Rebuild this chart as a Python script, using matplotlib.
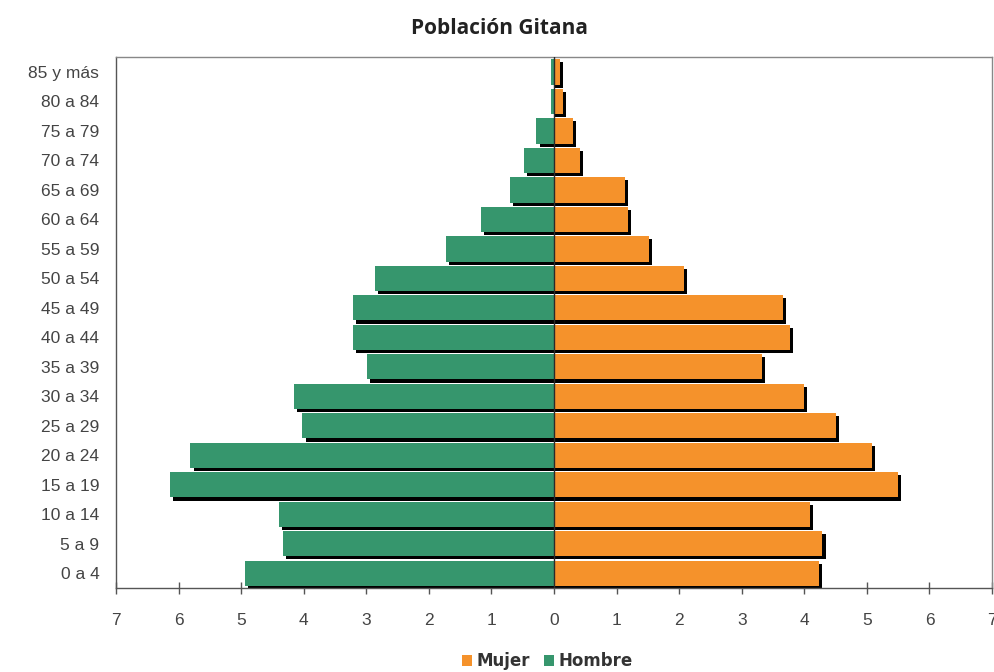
import matplotlib.pyplot as plt
import matplotlib.patheffects as pe
import numpy as np

# age groups, bottom to top
grupos = ['0 a 4', '5 a 9', '10 a 14', '15 a 19', '20 a 24', '25 a 29',
          '30 a 34', '35 a 39', '40 a 44', '45 a 49', '50 a 54', '55 a 59',
          '60 a 64', '65 a 69', '70 a 74', '75 a 79', '80 a 84', '85 y más']

# percentages
hombre = [4.94, 4.33, 4.40, 6.14, 5.81, 4.02, 4.15, 2.99, 3.21, 3.21,
          2.86, 1.72, 1.17, 0.71, 0.48, 0.28, 0.05, 0.05]
mujer = [4.24, 4.29, 4.09, 5.49, 5.08, 4.50, 4.00, 3.33, 3.77, 3.66,
         2.07, 1.52, 1.18, 1.14, 0.41, 0.31, 0.14, 0.09]

verde = '#36966d'
naranja = '#f5922b'

fig = plt.figure(figsize=(9.95, 6.72), dpi=100)
ax = fig.add_axes([0.1166, 0.125, 0.8804, 0.790])

y = np.arange(len(grupos))
sombra = [pe.SimplePatchShadow(offset=(2.2, -2.2), shadow_rgbFace='black', alpha=1.0), pe.Normal()]

bh = ax.barh(y, -np.array(hombre), height=0.86, color=verde, label='Hombre', zorder=2)
bm = ax.barh(y, mujer, height=0.86, color=naranja, label='Mujer', zorder=2)
for b in list(bh) + list(bm):
    b.set_path_effects(sombra)

ax.axvline(0, color='#2a2a2a', lw=1.0, zorder=3)

ax.set_xlim(-7, 7)
ax.set_ylim(-0.5, len(grupos) - 0.5)
ticks = np.arange(-7, 8)
ax.set_xticks(ticks)
ax.set_xticklabels([str(abs(t)) for t in ticks], fontsize=12.5,
                   family='Liberation Sans', color='#444444')
ax.set_yticks(y)
ax.set_yticklabels(grupos, fontsize=12.5, family='Liberation Sans', color='#444444')

ax.tick_params(axis='x', direction='inout', length=8, width=1, color='#555555', pad=14)
ax.tick_params(axis='y', length=0, pad=12)
for s in ax.spines.values():
    s.set_color('#888888')
    s.set_linewidth(1)
ax.spines['bottom'].set_color('#555555')
ax.spines['left'].set_color('#555555')

fig.text(0.502, 0.958, 'Población Gitana', ha='center', va='center',
         fontsize=15, fontweight='bold', family='Open Sans', color='#222222')

leg = fig.legend(handles=[bm, bh], labels=['Mujer', 'Hombre'], loc='center',
                 bbox_to_anchor=(0.55, 0.016), ncol=2, frameon=False,
                 prop={'family': 'DejaVu Sans', 'weight': 'bold', 'size': 12},
                 handlelength=0.6, handleheight=0.6, handletextpad=0.3,
                 columnspacing=0.8, borderaxespad=0)
for t in leg.get_texts():
    t.set_color('#333333')
for h in leg.legend_handles:
    h.set_path_effects([])

fig.savefig('out.png', dpi=100)
